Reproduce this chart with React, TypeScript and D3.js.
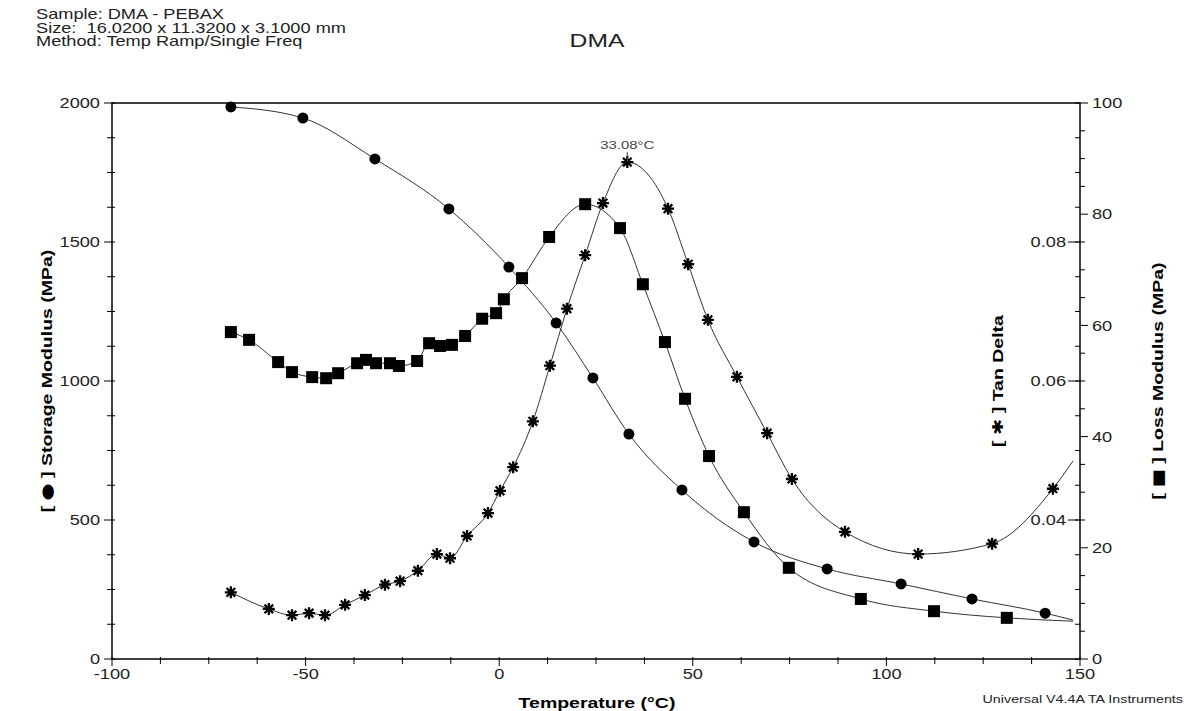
import * as d3 from 'd3';

// Storage modulus (MPa), left axis
const storageT = [-69.3, -50.7, -32.1, -13.0, 2.5, 14.7, 24.2, 33.5, 47.2, 65.8, 84.7, 103.8, 122.1, 141.0, 148.2];
const storageV = [1986, 1946, 1799, 1619, 1410, 1209, 1011, 809, 608, 421, 324, 270, 216, 165, 140];

// Loss modulus (MPa), outer right axis
const lossT = [-69.3, -64.6, -57.1, -53.5, -48.3, -44.7, -41.6, -36.7, -34.4, -31.8, -28.2, -25.9, -21.2, -18.1, -15.3, -12.2, -8.8, -4.4, -0.8, 1.2, 5.9, 12.9, 22.2, 31.2, 37.1, 42.8, 48.0, 54.2, 63.2, 74.8, 93.4, 112.3, 131.1, 148.2];
const lossV = [58.8, 57.4, 53.4, 51.6, 50.7, 50.5, 51.4, 53.2, 53.8, 53.2, 53.2, 52.7, 53.6, 56.8, 56.3, 56.5, 58.1, 61.2, 62.2, 64.7, 68.5, 75.9, 81.8, 77.5, 67.4, 57.0, 46.8, 36.5, 26.4, 16.4, 10.8, 8.6, 7.4, 6.8];

// Tan delta, inner right axis
const tanT = [-69.3, -59.5, -53.5, -49.1, -45.0, -39.8, -34.7, -29.5, -25.6, -21.0, -16.1, -12.7, -8.3, -2.9, 0.2, 3.6, 8.7, 13.1, 17.5, 22.2, 26.8, 33.08, 43.6, 48.8, 53.9, 61.4, 69.2, 75.6, 89.3, 108.2, 127.3, 143.0, 148.2];
const tanV = [0.0296, 0.0272, 0.0263, 0.0266, 0.0263, 0.0278, 0.0292, 0.0307, 0.0312, 0.0327, 0.0351, 0.0345, 0.0377, 0.041, 0.0442, 0.0476, 0.0542, 0.0622, 0.0704, 0.0781, 0.0856, 0.0915, 0.0848, 0.0768, 0.0688, 0.0606, 0.0525, 0.0459, 0.0383, 0.0351, 0.0366, 0.0445, 0.0485];

const peakT = 33.08;
const peakV = 0.0915;

const xTicks = [-100, -50, 0, 50, 100, 150];
const storageTicks = [0, 500, 1000, 1500, 2000];
const lossTicks = [0, 20, 40, 60, 80, 100];
const tanTicks = [0.04, 0.06, 0.08];

const headerLines = [
  'Sample: DMA - PEBAX',
  'Size:  16.0200 x 11.3200 x 3.1000 mm',
  'Method: Temp Ramp/Single Freq',
];

const FONT = 'Liberation Sans, Arial, sans-serif';
const SX = 1.3; // the instrument font is wide

function T({ x, y, size, anchor = 'start', bold = false, rotate = 0, fill = '#222', baseline = 'auto', children }: any) {
  return (
    <text
      transform={`translate(${x},${y}) rotate(${rotate}) scale(${SX},1)`}
      fontFamily={FONT}
      fontSize={size}
      fontWeight={bold ? 'bold' : 'normal'}
      textAnchor={anchor}
      dominantBaseline={baseline}
      fill={fill}
      style={{ whiteSpace: 'pre' }}
    >
      {children}
    </text>
  );
}

// bracketed symbol used in the axis titles
function Sym({ c }: { c: string }) {
  return (
    <>
      {'[ '}
      <tspan fontFamily="DejaVu Sans">{c}</tspan>
      {' ] '}
    </>
  );
}

function Asterisk({ cx, cy }: { cx: number; cy: number }) {
  const r = 6;
  const d = 4.3;
  return (
    <path
      d={`M${cx},${cy - r}L${cx},${cy + r}M${cx - r},${cy}L${cx + r},${cy}M${cx - d},${cy - d}L${cx + d},${cy + d}M${cx - d},${cy + d}L${cx + d},${cy - d}`}
      stroke="#000"
      strokeWidth={2.3}
    />
  );
}

export default function App() {
  const width = 1187;
  const height = 711;
  const left = 112;
  const right = 1080;
  const top = 103;
  const bottom = 659;

  const x = d3.scaleLinear([-100, 150], [left, right]);
  const yS = d3.scaleLinear([0, 2000], [bottom, top]);
  const yL = d3.scaleLinear([0, 100], [bottom, top]);
  const yT = d3.scaleLinear([0.02, 0.1], [bottom, top]);

  const line = (ts: number[], vs: number[], y: any) =>
    d3
      .line<number>((_, i) => x(ts[i]), (v) => y(v))
      .curve(d3.curveMonotoneX)(vs) as string;

  const xMinor = d3.range(-100, 150.1, 12.5);
  const sMinor = d3.range(0, 2000.1, 125);
  const lMinor = d3.range(0, 100.1, 5);
  const tMinor = d3.range(0.02, 0.1001, 0.005);

  return (
    <svg width={width} height={height} style={{ position: 'absolute', left: 0, top: 0, background: '#fff' }}>
      {headerLines.map((s, i) => (
        <T key={i} x={36} y={19 + i * 13.5} size={14}>
          {s}
        </T>
      ))}
      <T x={597} y={47} size={19} anchor="middle">
        DMA
      </T>

      {/* frame */}
      <rect x={left} y={top} width={right - left} height={bottom - top} fill="none" stroke="#000" strokeWidth={1.5} />

      {/* x axis */}
      {xMinor.map((t) => (
        <line key={t} x1={x(t)} x2={x(t)} y1={bottom - 2} y2={bottom + (xTicks.includes(t) ? 7 : 5)} stroke="#000" />
      ))}
      {xTicks.map((t) => (
        <T key={t} x={x(t)} y={674} size={14} anchor="middle" baseline="central">
          {t}
        </T>
      ))}
      <T x={597} y={703} size={15} anchor="middle" bold baseline="central" fill="#000">
        Temperature (°C)
      </T>

      {/* storage axis */}
      {sMinor.map((t) => (
        <line key={t} x1={left - (storageTicks.includes(t) ? 8 : 5)} x2={left + 3} y1={yS(t)} y2={yS(t)} stroke="#000" />
      ))}
      {storageTicks.map((t) => (
        <T key={t} x={100} y={yS(t)} size={14} anchor="end" baseline="central">
          {t}
        </T>
      ))}
      <T x={47} y={381} size={15} anchor="middle" bold rotate={-90} baseline="central" fill="#000">
        <Sym c="●" />
        Storage Modulus (MPa)
      </T>

      {/* loss axis */}
      {lMinor.map((t) => (
        <line key={t} x1={right} x2={right + (lossTicks.includes(t) ? 8 : 5)} y1={yL(t)} y2={yL(t)} stroke="#000" />
      ))}
      {lossTicks.map((t) => (
        <T key={t} x={1092} y={yL(t)} size={14} baseline="central">
          {t}
        </T>
      ))}
      <T x={1158} y={381} size={15} anchor="middle" bold rotate={-90} baseline="central" fill="#000">
        <Sym c="■" />
        Loss Modulus (MPa)
      </T>

      {/* tan delta axis */}
      {tMinor.map((t) => (
        <line key={t} x1={right - 5} x2={right} y1={yT(t)} y2={yT(t)} stroke="#000" />
      ))}
      {tanTicks.map((t) => (
        <g key={t}>
          <line x1={right - 12} x2={right} y1={yT(t)} y2={yT(t)} stroke="#000" />
          <T x={1066} y={yT(t)} size={14} anchor="end" baseline="central">
            {d3.format('.2f')(t)}
          </T>
        </g>
      ))}
      <T x={998} y={381} size={15} anchor="middle" bold rotate={-90} baseline="central" fill="#000">
        <Sym c="✱" />
        Tan Delta
      </T>

      {/* curves */}
      <g fill="none" stroke="#333" strokeWidth={1}>
        <path d={line(storageT, storageV, yS)} />
        <path d={line(lossT, lossV, yL)} />
        <path d={line(tanT, tanV, yT)} />
      </g>

      {/* markers */}
      <g fill="#000">
        {storageV.slice(0, -1).map((v, i) => (
          <circle key={i} cx={x(storageT[i])} cy={yS(v)} r={5.5} />
        ))}
        {lossV.slice(0, -1).map((v, i) => (
          <rect key={i} x={x(lossT[i]) - 6} y={yL(v) - 6} width={12} height={12} />
        ))}
      </g>
      {tanV.slice(0, -1).map((v, i) => (
        <Asterisk key={i} cx={x(tanT[i])} cy={yT(v)} />
      ))}

      {/* peak annotation */}
      <line x1={x(peakT)} x2={x(peakT)} y1={yT(peakV) - 10} y2={yT(peakV)} stroke="#444" />
      <T x={x(peakT)} y={yT(peakV) - 13} size={11.5} anchor="middle" fill="#444">
        {`${peakT.toFixed(2)}°C`}
      </T>

      <T x={1183} y={699} size={11} anchor="end" baseline="central">
        Universal V4.4A TA Instruments
      </T>
    </svg>
  );
}
